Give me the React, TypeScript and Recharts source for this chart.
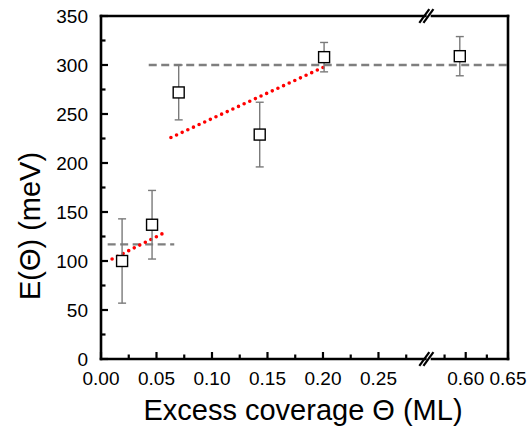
import React from "react";
import {
  ComposedChart,
  Scatter,
  Line,
  XAxis,
  YAxis,
  ErrorBar,
  ReferenceLine,
} from "recharts";

// measured points (Theta in ML, E in meV)
const coverage = [0.019, 0.046, 0.07, 0.143, 0.201, 0.593];
const energy = [100, 137, 272, 229, 308, 309];
const errors = [43, 35, 28, 33, 15, 20];

// fits / guides
const lowFitX = [0.01, 0.059];
const lowFitY = [102, 130];
const highFitX = [0.063, 0.201];
const highFitY = [226, 298];
const lowPlateauX = [0.006, 0.066];
const lowPlateauY = [117, 117];
const highPlateauX = [0.043, 0.65];
const highPlateauY = [300, 300];

const xMajor = [0, 0.05, 0.1, 0.15, 0.2, 0.25, 0.6, 0.65];
const xMinor = [0.025, 0.075, 0.125, 0.175, 0.225, 0.275, 0.575, 0.625];
const yMajor = [0, 50, 100, 150, 200, 250, 300, 350];
const yMinor = [25, 75, 125, 175, 225, 275, 325];

// broken axis: left part 1:1, right part compressed after the break
const BREAK = 0.2935;
const X_END = 0.3667;
const disp = (x: number) => (x <= 0.3 ? x : X_END - (0.65 - x) * 0.762);

const FONT = "'Liberation Sans', Arial, sans-serif";

const toPoints = (xs: number[], ys: number[]) =>
  xs.map((x, i) => ({ dx: disp(x), y: ys[i] }));

const points = coverage.map((c, i) => ({ dx: disp(c), y: energy[i], err: errors[i] }));

const xTicks = [
  ...xMajor.map((v) => ({ v, d: disp(v), major: true })),
  ...xMinor.map((v) => ({ v, d: disp(v), major: false })),
].sort((a, b) => a.d - b.d);
const yTicks = [
  ...yMajor.map((v) => ({ v, major: true })),
  ...yMinor.map((v) => ({ v, major: false })),
].sort((a, b) => a.v - b.v);

const findX = (d: number) => xTicks.find((t) => Math.abs(t.d - d) < 1e-6);
const isYMajor = (v: number) => v % 50 === 0;

const TICK_W = 2.2;

const BottomTick = (props: any) => {
  const { x, y, payload } = props;
  const t = findX(payload.value);
  const major = t ? t.major : true;
  return (
    <g>
      <line x1={x} x2={x} y1={y} y2={y - (major ? 7 : 4.5)} stroke="#000" strokeWidth={TICK_W} />
      {major && t && (
        <text x={x} y={y + 26} textAnchor="middle" fontSize={19} fontFamily={FONT} fill="#000">
          {t.v.toFixed(2)}
        </text>
      )}
    </g>
  );
};

const TopTick = (props: any) => {
  const { x, y, payload } = props;
  const t = findX(payload.value);
  const major = t ? t.major : true;
  return <line x1={x} x2={x} y1={y} y2={y + (major ? 7 : 4.5)} stroke="#000" strokeWidth={TICK_W} />;
};

const LeftTick = (props: any) => {
  const { x, y, payload } = props;
  const major = isYMajor(payload.value);
  return (
    <g>
      <line x1={x} x2={x + (major ? 7 : 4.5)} y1={y} y2={y} stroke="#000" strokeWidth={TICK_W} />
      {major && (
        <text x={x - 13} y={y} dy="0.36em" textAnchor="end" fontSize={19} fontFamily={FONT} fill="#000">
          {payload.value}
        </text>
      )}
    </g>
  );
};

const RightTick = (props: any) => {
  const { x, y, payload } = props;
  const major = isYMajor(payload.value);
  return <line x1={x} x2={x - (major ? 7 : 4.5)} y1={y} y2={y} stroke="#000" strokeWidth={TICK_W} />;
};

const Square = (props: any) => {
  const { cx, cy } = props;
  if (cx == null || cy == null) return null;
  return <rect x={cx - 5.5} y={cy - 5.5} width={11} height={11} fill="#fff" stroke="#000" strokeWidth={1.4} />;
};

const frame = { stroke: "#000", strokeWidth: 2.6, ifOverflow: "visible" as const, strokeLinecap: "square" as const };
const slash = { stroke: "#000", strokeWidth: 2.2, ifOverflow: "visible" as const };

export default function App() {
  return (
    <div style={{ position: "absolute", left: 0, top: 0, background: "#fff" }}>
      <ComposedChart width={529} height={430} margin={{ top: 16, right: 21, bottom: 0, left: 0 }}>
        <XAxis
          xAxisId={0}
          dataKey="dx"
          type="number"
          domain={[0, X_END]}
          allowDataOverflow
          ticks={xTicks.map((t) => t.d)}
          interval={0}
          axisLine={false}
          tickLine={false}
          tickSize={0}
          tickMargin={0}
          tick={<BottomTick />}
          height={71}
          label={{
            content: () => (
              <text x={303} y={420} textAnchor="middle" fontSize={29} fontFamily={FONT} fill="#000">
                Excess coverage Θ (ML)
              </text>
            ),
          }}
        />
        <XAxis
          xAxisId="top"
          orientation="top"
          dataKey="dx"
          type="number"
          domain={[0, X_END]}
          allowDataOverflow
          ticks={xTicks.map((t) => t.d)}
          interval={0}
          axisLine={false}
          tickLine={false}
          tickSize={0}
          tickMargin={0}
          tick={<TopTick />}
          height={0}
        />
        <YAxis
          yAxisId={0}
          dataKey="y"
          type="number"
          domain={[0, 350]}
          ticks={yTicks.map((t) => t.v)}
          interval={0}
          axisLine={false}
          tickLine={false}
          tickSize={0}
          tickMargin={0}
          tick={<LeftTick />}
          width={101}
          label={{
            content: () => (
              <text
                x={30}
                y={226}
                transform="rotate(-90 30 226)"
                dy="0.36em"
                textAnchor="middle"
                fontSize={29}
                fontFamily={FONT}
                fill="#000"
              >
                E(Θ) (meV)
              </text>
            ),
          }}
        />
        <YAxis
          yAxisId="right"
          orientation="right"
          type="number"
          domain={[0, 350]}
          ticks={yTicks.map((t) => t.v)}
          interval={0}
          axisLine={false}
          tickLine={false}
          tickSize={0}
          tickMargin={0}
          tick={<RightTick />}
          width={0}
        />

        <Line
          data={toPoints(highPlateauX, highPlateauY)}
          dataKey="y"
          type="linear"
          stroke="#7f7f7f"
          strokeWidth={2.3}
          strokeDasharray="8 4.5"
          dot={false}
          activeDot={false}
          isAnimationActive={false}
        />
        <Line
          data={toPoints(lowPlateauX, lowPlateauY)}
          dataKey="y"
          type="linear"
          stroke="#7f7f7f"
          strokeWidth={2.3}
          strokeDasharray="8 4.5"
          dot={false}
          activeDot={false}
          isAnimationActive={false}
        />
        <Line
          data={toPoints(lowFitX, lowFitY)}
          dataKey="y"
          type="linear"
          stroke="#ff0000"
          strokeWidth={3.6}
          strokeLinecap="round"
          strokeDasharray="0 6.2"
          dot={false}
          activeDot={false}
          isAnimationActive={false}
        />
        <Line
          data={toPoints(highFitX, highFitY)}
          dataKey="y"
          type="linear"
          stroke="#ff0000"
          strokeWidth={3.6}
          strokeLinecap="round"
          strokeDasharray="0 6.2"
          dot={false}
          activeDot={false}
          isAnimationActive={false}
        />

        <Scatter data={points} dataKey="y" shape={<Square />} isAnimationActive={false}>
          <ErrorBar dataKey="err" direction="y" width={4} stroke="#7a7a7a" strokeWidth={1.4} />
        </Scatter>

        {/* frame with a break on the x axis */}
        <ReferenceLine segment={[{ x: 0, y: 0 }, { x: 0.2922, y: 0 }]} {...frame} />
        <ReferenceLine segment={[{ x: 0.2982, y: 0 }, { x: X_END, y: 0 }]} {...frame} />
        <ReferenceLine segment={[{ x: 0, y: 350 }, { x: 0.2922, y: 350 }]} {...frame} />
        <ReferenceLine segment={[{ x: 0.2982, y: 350 }, { x: X_END, y: 350 }]} {...frame} />
        <ReferenceLine segment={[{ x: 0, y: 0 }, { x: 0, y: 350 }]} {...frame} />
        <ReferenceLine segment={[{ x: X_END, y: 0 }, { x: X_END, y: 350 }]} {...frame} />
        <ReferenceLine segment={[{ x: BREAK - 0.0067, y: -7 }, { x: BREAK + 0.0023, y: 7 }]} {...slash} />
        <ReferenceLine segment={[{ x: BREAK - 0.003, y: -7 }, { x: BREAK + 0.006, y: 7 }]} {...slash} />
        <ReferenceLine segment={[{ x: BREAK - 0.0067, y: 343 }, { x: BREAK + 0.0023, y: 357 }]} {...slash} />
        <ReferenceLine segment={[{ x: BREAK - 0.003, y: 343 }, { x: BREAK + 0.006, y: 357 }]} {...slash} />
      </ComposedChart>
    </div>
  );
}
